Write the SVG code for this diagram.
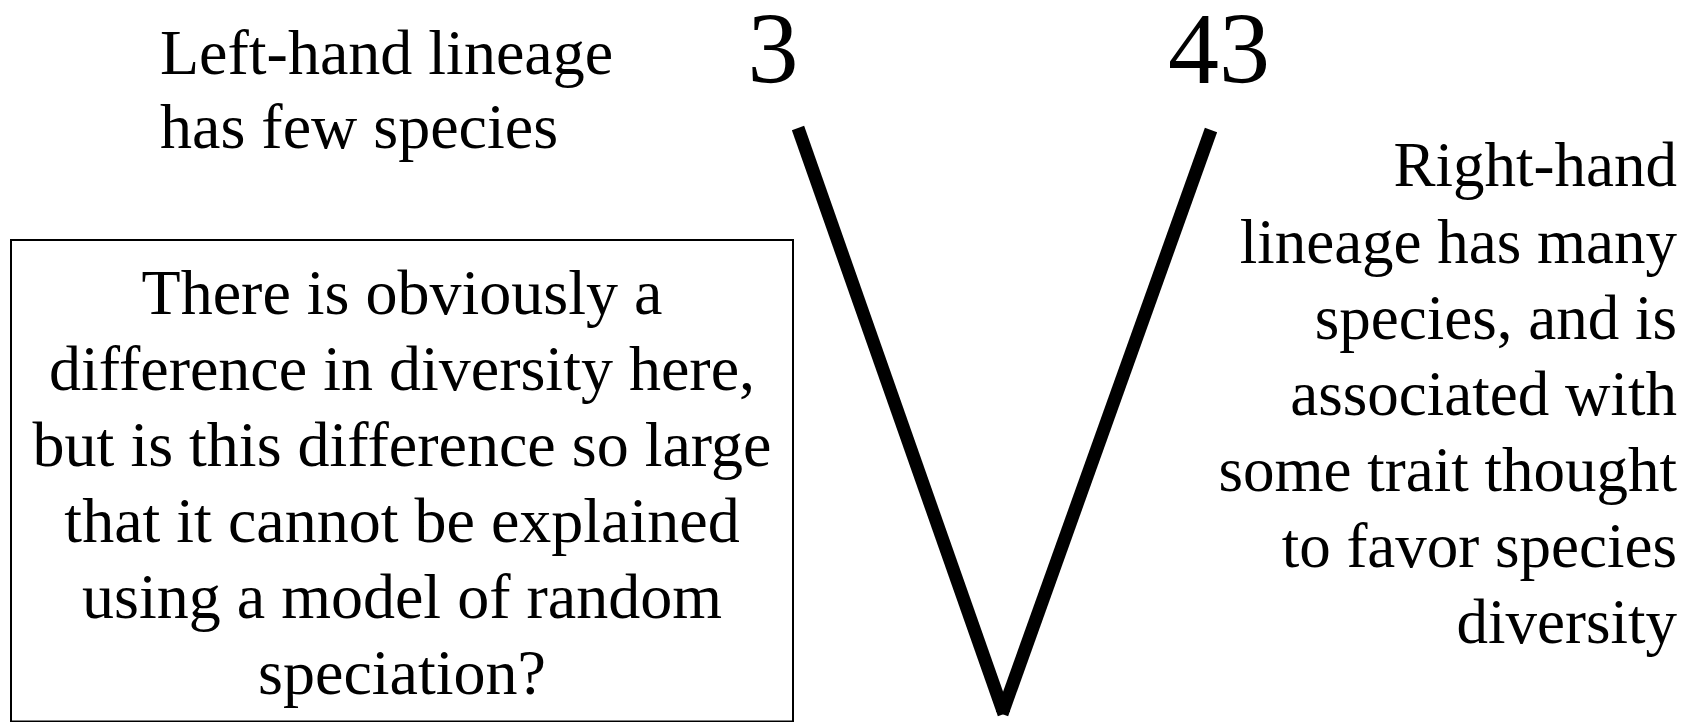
<svg xmlns="http://www.w3.org/2000/svg" width="1699" height="722" viewBox="0 0 1699 722">
<style>
.t{font-family:"Liberation Serif","Times New Roman",serif;font-size:64px;fill:#000}
.s{font-size:63px}
.n{font-family:"Liberation Serif","Times New Roman",serif;font-size:102px;fill:#000;text-anchor:middle}
.m{text-anchor:middle}
.r{text-anchor:end}
.br{stroke:#000;stroke-width:13;fill:none;stroke-linecap:butt}
</style>
<rect width="1699" height="722" fill="#fff"/>
<g id="connectors">
<line class="br" x1="798" y1="128" x2="1004" y2="714"/>
<line class="br" x1="1211" y1="130" x2="1002" y2="714"/>
</g>
<g id="count-left"><text class="n" x="773" y="83">3</text></g>
<g id="count-right"><text class="n" x="1219" y="83">43</text></g>
<g id="left-label">
<text class="t" x="160" y="74">Left-hand lineage</text>
<text class="t" x="160" y="148">has few species</text>
</g>
<g id="question-box">
<rect x="11" y="240" width="782" height="481.5" fill="none" stroke="#000" stroke-width="2"/>
<text class="t m" x="402" y="314">There is obviously a</text>
<text class="t m" x="402" y="390">difference in diversity here,</text>
<text class="t m" x="402" y="466">but is this difference so large</text>
<text class="t m" x="402" y="542">that it cannot be explained</text>
<text class="t m" x="402" y="618">using a model of random</text>
<text class="t m" x="402" y="694">speciation?</text>
</g>
<g id="right-label">
<text class="t s r" x="1677" y="186">Right-hand</text>
<text class="t s r" x="1677" y="263">lineage has many</text>
<text class="t s r" x="1677" y="339">species, and is</text>
<text class="t s r" x="1677" y="415">associated with</text>
<text class="t s r" x="1677" y="491">some trait thought</text>
<text class="t s r" x="1677" y="567">to favor species</text>
<text class="t s r" x="1677" y="643">diversity</text>
</g>
</svg>
